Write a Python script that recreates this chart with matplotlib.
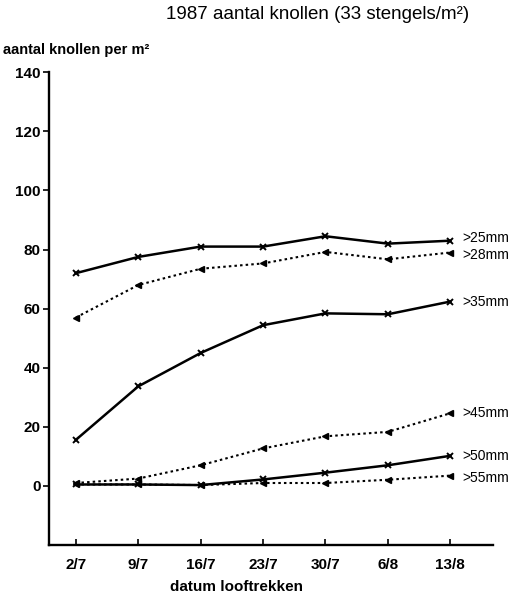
import matplotlib.pyplot as plt

plt.rcParams["font.family"] = ["Liberation Sans", "DejaVu Sans"]

# datum looftrekken (1987)
dates = ["2/7", "9/7", "16/7", "23/7", "30/7", "6/8", "13/8"]

# aantal knollen per m2 per sorteringsgrens
gt25 = [72, 77.5, 81, 81, 84.5, 82, 83]
gt28 = [57, 68, 73.5, 75.3, 79.2, 76.7, 79]
gt35 = [15.6, 33.7, 45, 54.4, 58.4, 58.1, 62.4]
gt45 = [1, 2.5, 7, 12.7, 16.8, 18.3, 24.6]
gt50 = [0.5, 0.5, 0.3, 2.2, 4.5, 7, 10.2]
gt55 = [0.5, 0.5, 0.3, 1, 1, 2.1, 3.5]

series = [
    (">25mm", gt25, "solid"),
    (">28mm", gt28, "dotted"),
    (">35mm", gt35, "solid"),
    (">45mm", gt45, "dotted"),
    (">50mm", gt50, "solid"),
    (">55mm", gt55, "dotted"),
]

# kleine verschuiving (punten) zodat de bovenste labels niet botsen
label_shift = {">25mm": 1.8, ">28mm": -1.8, ">55mm": -1.5}


def main():
    fig = plt.figure(figsize=(5.27, 5.97), dpi=100)
    ax = fig.add_axes([0.093, 0.087, 0.842, 0.792])

    x = list(range(len(dates)))
    for label, values, style in series:
        if style == "solid":
            ax.plot(x, values, color="black", linewidth=1.8, marker="x",
                    markersize=5, markeredgewidth=1.4)
        else:
            ax.plot(x, values, color="black", linewidth=1.5, linestyle=(0, (1.2, 1.5)),
                    marker="<", markersize=4.8)
        ax.annotate(label, xy=(x[-1], values[-1]),
                    xytext=(9, label_shift.get(label, 0)),
                    textcoords="offset points", va="center", ha="left", fontsize=10)

    ax.set_xlim(-0.43, 6.68)
    ax.set_ylim(-20, 140)

    ax.spines["top"].set_visible(False)
    ax.spines["right"].set_visible(False)
    ax.spines["left"].set_linewidth(1.7)
    ax.spines["bottom"].set_linewidth(1.7)

    ax.set_yticks(range(0, 141, 20))
    ax.set_xticks(x)
    ax.set_xticklabels(dates)
    ax.tick_params(axis="y", direction="out", length=4, width=1.2, labelsize=11, pad=2)
    ax.tick_params(axis="x", direction="in", length=4, width=1.2, labelsize=11, pad=9)
    for lbl in ax.get_xticklabels() + ax.get_yticklabels():
        lbl.set_fontweight("bold")

    ax.set_xlabel("datum looftrekken", fontsize=11, fontweight="bold")
    ax.xaxis.set_label_coords(0.423, -0.074)

    fig.text(0.005, 0.917, "aantal knollen per m²", fontsize=10.5, fontweight="bold",
             ha="left", va="center")
    fig.text(0.603, 0.975, "1987 aantal knollen (33 stengels/m²)", fontsize=13.5,
             ha="center", va="center")

    fig.savefig("out.png", dpi=100)
    plt.close(fig)


if __name__ == "__main__":
    main()
